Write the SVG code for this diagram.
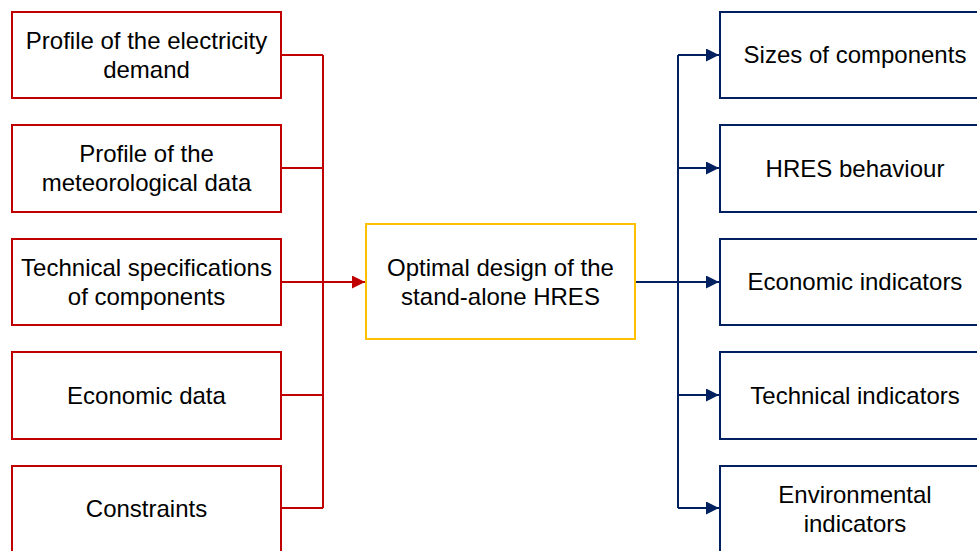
<svg xmlns="http://www.w3.org/2000/svg" width="977" height="551" viewBox="0 0 977 551">
<style>
.in{fill:#fff;stroke:#C00000;stroke-width:2}
.mid{fill:#fff;stroke:#FFC000;stroke-width:2}
.out{fill:#fff;stroke:#002060;stroke-width:2}
text{font-family:"Liberation Sans",Arial,sans-serif;font-size:24px;fill:#000;text-anchor:middle}
.r{fill:none;stroke:#C00000;stroke-width:2}
.b{fill:none;stroke:#002060;stroke-width:2}
</style>
<defs>
<marker id="ar" viewBox="0 0 10 10" refX="10" refY="5" markerWidth="13" markerHeight="13" orient="auto" markerUnits="userSpaceOnUse"><path d="M0,0 L10,5 L0,10 z" fill="#C00000"/></marker>
<marker id="ab" viewBox="0 0 10 10" refX="10" refY="5" markerWidth="13" markerHeight="13" orient="auto" markerUnits="userSpaceOnUse"><path d="M0,0 L10,5 L0,10 z" fill="#002060"/></marker>
</defs>
<g id="connectors">
<path class="r" d="M281,55H323M281,168H323M281,282H323M281,395H323M281,508H323M323,55V508"/>
<path class="r" d="M323,282H365" marker-end="url(#ar)"/>
<path class="b" d="M635,282H678M678,55V508"/>
<path class="b" d="M678,55H719" marker-end="url(#ab)"/>
<path class="b" d="M678,168H719" marker-end="url(#ab)"/>
<path class="b" d="M678,282H719" marker-end="url(#ab)"/>
<path class="b" d="M678,395H719" marker-end="url(#ab)"/>
<path class="b" d="M678,508H719" marker-end="url(#ab)"/>
</g>
<g id="in1"><rect class="in" x="12" y="12" width="269" height="86"/><text x="146.5" y="49">Profile of the electricity</text><text x="146.5" y="78">demand</text></g>
<g id="in2"><rect class="in" x="12" y="125" width="269" height="87"/><text x="146.5" y="162">Profile of the</text><text x="146.5" y="191">meteorological data</text></g>
<g id="in3"><rect class="in" x="12" y="239" width="269" height="86"/><text x="146.5" y="276">Technical specifications</text><text x="146.5" y="305">of components</text></g>
<g id="in4"><rect class="in" x="12" y="352" width="269" height="87"/><text x="146.5" y="404">Economic data</text></g>
<g id="in5"><rect class="in" x="12" y="466" width="269" height="90"/><text x="146.5" y="517">Constraints</text></g>
<g id="center"><rect class="mid" x="366" y="224" width="269" height="115"/><text x="500.5" y="276">Optimal design of the</text><text x="500.5" y="305">stand-alone HRES</text></g>
<g id="out1"><rect class="out" x="720" y="12" width="270" height="86"/><text x="855" y="63">Sizes of components</text></g>
<g id="out2"><rect class="out" x="720" y="125" width="270" height="87"/><text x="855" y="177">HRES behaviour</text></g>
<g id="out3"><rect class="out" x="720" y="239" width="270" height="86"/><text x="855" y="290">Economic indicators</text></g>
<g id="out4"><rect class="out" x="720" y="352" width="270" height="87"/><text x="855" y="404">Technical indicators</text></g>
<g id="out5"><rect class="out" x="720" y="466" width="270" height="90"/><text x="855" y="503">Environmental</text><text x="855" y="532">indicators</text></g>
</svg>
